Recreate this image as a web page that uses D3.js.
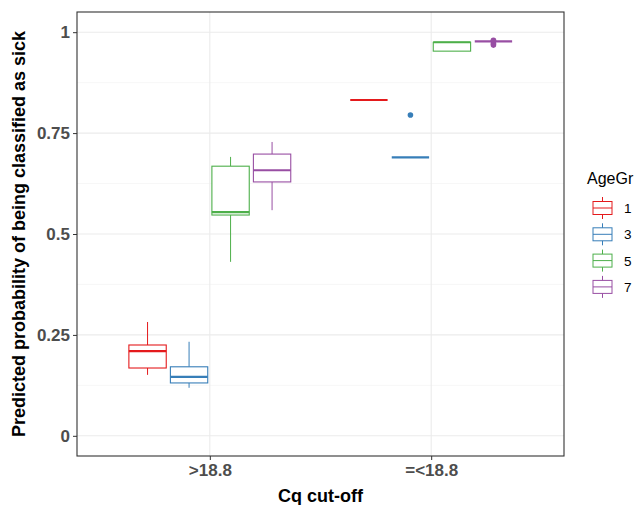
<!DOCTYPE html>
<html>
<head>
<meta charset="utf-8">
<script src="https://cdn.jsdelivr.net/npm/d3@7"></script>
<style>
body { margin: 0; background: #fff; }
svg text { font-family: Arial, "Liberation Sans", sans-serif; }
</style>
</head>
<body>
<div id="chart"></div>
<script>
var w = 638;
var h = 505;

// data
var cutoffs = [">18.8", "=<18.8"];
var ageGroups = ["1", "3", "5", "7"];
var colors = ["#E41A1C", "#377EB8", "#4DAF4A", "#984EA3"];
// box stats per cutoff, in ageGroups order: [lowWhisker, q1, median, q3, highWhisker]
var statsAbove = [
    [0.151, 0.168, 0.210, 0.225, 0.282],
    [0.119, 0.131, 0.146, 0.171, 0.233],
    [0.431, 0.547, 0.554, 0.668, 0.691],
    [0.559, 0.629, 0.658, 0.698, 0.728]
];
var statsBelow = [
    [0.832, 0.832, 0.832, 0.832, 0.832],
    [0.690, 0.690, 0.690, 0.690, 0.690],
    [0.953, 0.953, 0.975, 0.975, 0.975],
    [0.977, 0.977, 0.977, 0.977, 0.977]
];
var outliersAbove = [[], [], [], []];
var outliersBelow = [[], [0.795], [], [0.968, 0.972, 0.978, 0.980]];
var yTicks = [0, 0.25, 0.5, 0.75, 1];
var yTickLabels = ["0", "0.25", "0.5", "0.75", "1"];
var yMinor = [0.125, 0.375, 0.625, 0.875];

var boxes = [];
cutoffs.forEach(function(c, ci){
    var st = ci === 0 ? statsAbove : statsBelow;
    var out = ci === 0 ? outliersAbove : outliersBelow;
    ageGroups.forEach(function(g, gi){
        boxes.push({cut: c, group: g, gi: gi, s: st[gi], out: out[gi]});
    });
});

var pLeft = 77, pRight = 564, pTop = 12, pBottom = 456;

var svg = d3.select("#chart")
            .append("svg")
            .attr("width", w)
            .attr("height", h);

// discrete x like ggplot: 0.6 unit expansion each side
var step = (pRight - pLeft) / 2.2;
var xScale = d3.scalePoint()
            .domain(cutoffs)
            .range([pLeft + step * 0.6, pRight - step * 0.6]);

var inner = d3.scaleBand()
            .domain(ageGroups)
            .range([-0.375 * step, 0.375 * step]);

var yScale = d3.scaleLinear()
            .domain([-0.05, 1.05])
            .range([pBottom, pTop]);

// grid
svg.append("g").selectAll("line")
    .data(yMinor).enter().append("line")
    .attr("x1", pLeft).attr("x2", pRight)
    .attr("y1", function(d){ return yScale(d); })
    .attr("y2", function(d){ return yScale(d); })
    .attr("stroke", "#F2F2F2").attr("stroke-width", 0.6);
svg.append("g").selectAll("line")
    .data(yTicks).enter().append("line")
    .attr("x1", pLeft).attr("x2", pRight)
    .attr("y1", function(d){ return yScale(d); })
    .attr("y2", function(d){ return yScale(d); })
    .attr("stroke", "#EBEBEB").attr("stroke-width", 1.1);
svg.append("g").selectAll("line")
    .data(cutoffs).enter().append("line")
    .attr("y1", pTop).attr("y2", pBottom)
    .attr("x1", function(d){ return xScale(d); })
    .attr("x2", function(d){ return xScale(d); })
    .attr("stroke", "#EBEBEB").attr("stroke-width", 1.1);

// boxes
var bw = inner.bandwidth() * 0.9;
var g = svg.append("g").selectAll("g")
    .data(boxes).enter().append("g")
    .attr("transform", function(d){
        return "translate(" + (xScale(d.cut) + inner(d.group) + inner.bandwidth() / 2) + ",0)";
    });
g.append("line")
    .attr("x1", 0).attr("x2", 0)
    .attr("y1", function(d){ return yScale(d.s[4]); })
    .attr("y2", function(d){ return yScale(d.s[3]); })
    .attr("stroke", function(d){ return colors[d.gi]; });
g.append("line")
    .attr("x1", 0).attr("x2", 0)
    .attr("y1", function(d){ return yScale(d.s[1]); })
    .attr("y2", function(d){ return yScale(d.s[0]); })
    .attr("stroke", function(d){ return colors[d.gi]; });
g.append("rect")
    .attr("x", -bw / 2).attr("width", bw)
    .attr("y", function(d){ return yScale(d.s[3]); })
    .attr("height", function(d){ return yScale(d.s[1]) - yScale(d.s[3]); })
    .attr("fill", "white")
    .attr("stroke", function(d){ return colors[d.gi]; })
    .attr("stroke-width", 1.1);
g.append("line")
    .attr("x1", -bw / 2).attr("x2", bw / 2)
    .attr("y1", function(d){ return yScale(d.s[2]); })
    .attr("y2", function(d){ return yScale(d.s[2]); })
    .attr("stroke", function(d){ return colors[d.gi]; })
    .attr("stroke-width", 2.2);
g.selectAll("circle")
    .data(function(d){ return d.out.map(function(v){ return {v: v, gi: d.gi}; }); })
    .enter().append("circle")
    .attr("cx", 0)
    .attr("cy", function(d){ return yScale(d.v); })
    .attr("r", 2.8)
    .attr("fill", function(d){ return colors[d.gi]; });

// panel border
svg.append("rect")
    .attr("x", pLeft).attr("y", pTop)
    .attr("width", pRight - pLeft).attr("height", pBottom - pTop)
    .attr("fill", "none").attr("stroke", "#333333").attr("stroke-width", 1.1);

// axes
var yAxis = d3.axisLeft(yScale)
    .tickValues(yTicks)
    .tickFormat(function(d, i){ return yTickLabels[i]; })
    .tickSize(4).tickPadding(3);
var ya = svg.append("g")
    .attr("transform", "translate(" + pLeft + ",0)")
    .call(yAxis);
ya.select(".domain").remove();
ya.selectAll("line").attr("stroke", "#333333");
ya.selectAll("text").attr("fill", "#4D4D4D").attr("font-size", 17).attr("font-weight", "bold")
    .style("font-family", "Arial, 'Liberation Sans', sans-serif");

var xAxis = d3.axisBottom(xScale).tickSize(4).tickPadding(4);
var xa = svg.append("g")
    .attr("transform", "translate(0," + pBottom + ")")
    .call(xAxis);
xa.select(".domain").remove();
xa.selectAll("line").attr("stroke", "#333333");
xa.selectAll("text").attr("fill", "#4D4D4D").attr("font-size", 17).attr("font-weight", "bold")
    .style("font-family", "Arial, 'Liberation Sans', sans-serif");

// titles
svg.append("text")
    .attr("x", (pLeft + pRight) / 2).attr("y", 502)
    .attr("text-anchor", "middle")
    .attr("font-size", 18).attr("font-weight", "bold")
    .text("Cq cut-off");
svg.append("text")
    .attr("transform", "translate(25," + ((pTop + pBottom) / 2) + ") rotate(-90)")
    .attr("text-anchor", "middle")
    .attr("font-size", 18).attr("font-weight", "bold")
    .text("Predicted probability of being classified as sick");

// legend
var leg = svg.append("g");
leg.append("text")
    .attr("x", 587).attr("y", 184)
    .attr("font-size", 16)
    .text("AgeGr");
var keys = leg.selectAll("g")
    .data(ageGroups).enter().append("g")
    .attr("transform", function(d, i){ return "translate(592," + (195 + i * 26.3) + ")"; });
keys.append("line")
    .attr("x1", 10.5).attr("x2", 10.5).attr("y1", 2).attr("y2", 24)
    .attr("stroke", function(d, i){ return colors[i]; });
keys.append("rect")
    .attr("x", 1).attr("y", 6.5).attr("width", 19).attr("height", 13)
    .attr("fill", "white")
    .attr("stroke", function(d, i){ return colors[i]; });
keys.append("line")
    .attr("x1", 1).attr("x2", 20).attr("y1", 13).attr("y2", 13)
    .attr("stroke", function(d, i){ return colors[i]; });
keys.append("text")
    .attr("x", 32).attr("y", 18)
    .attr("font-size", 13.5)
    .text(function(d){ return d; });
</script>
</body>
</html>
